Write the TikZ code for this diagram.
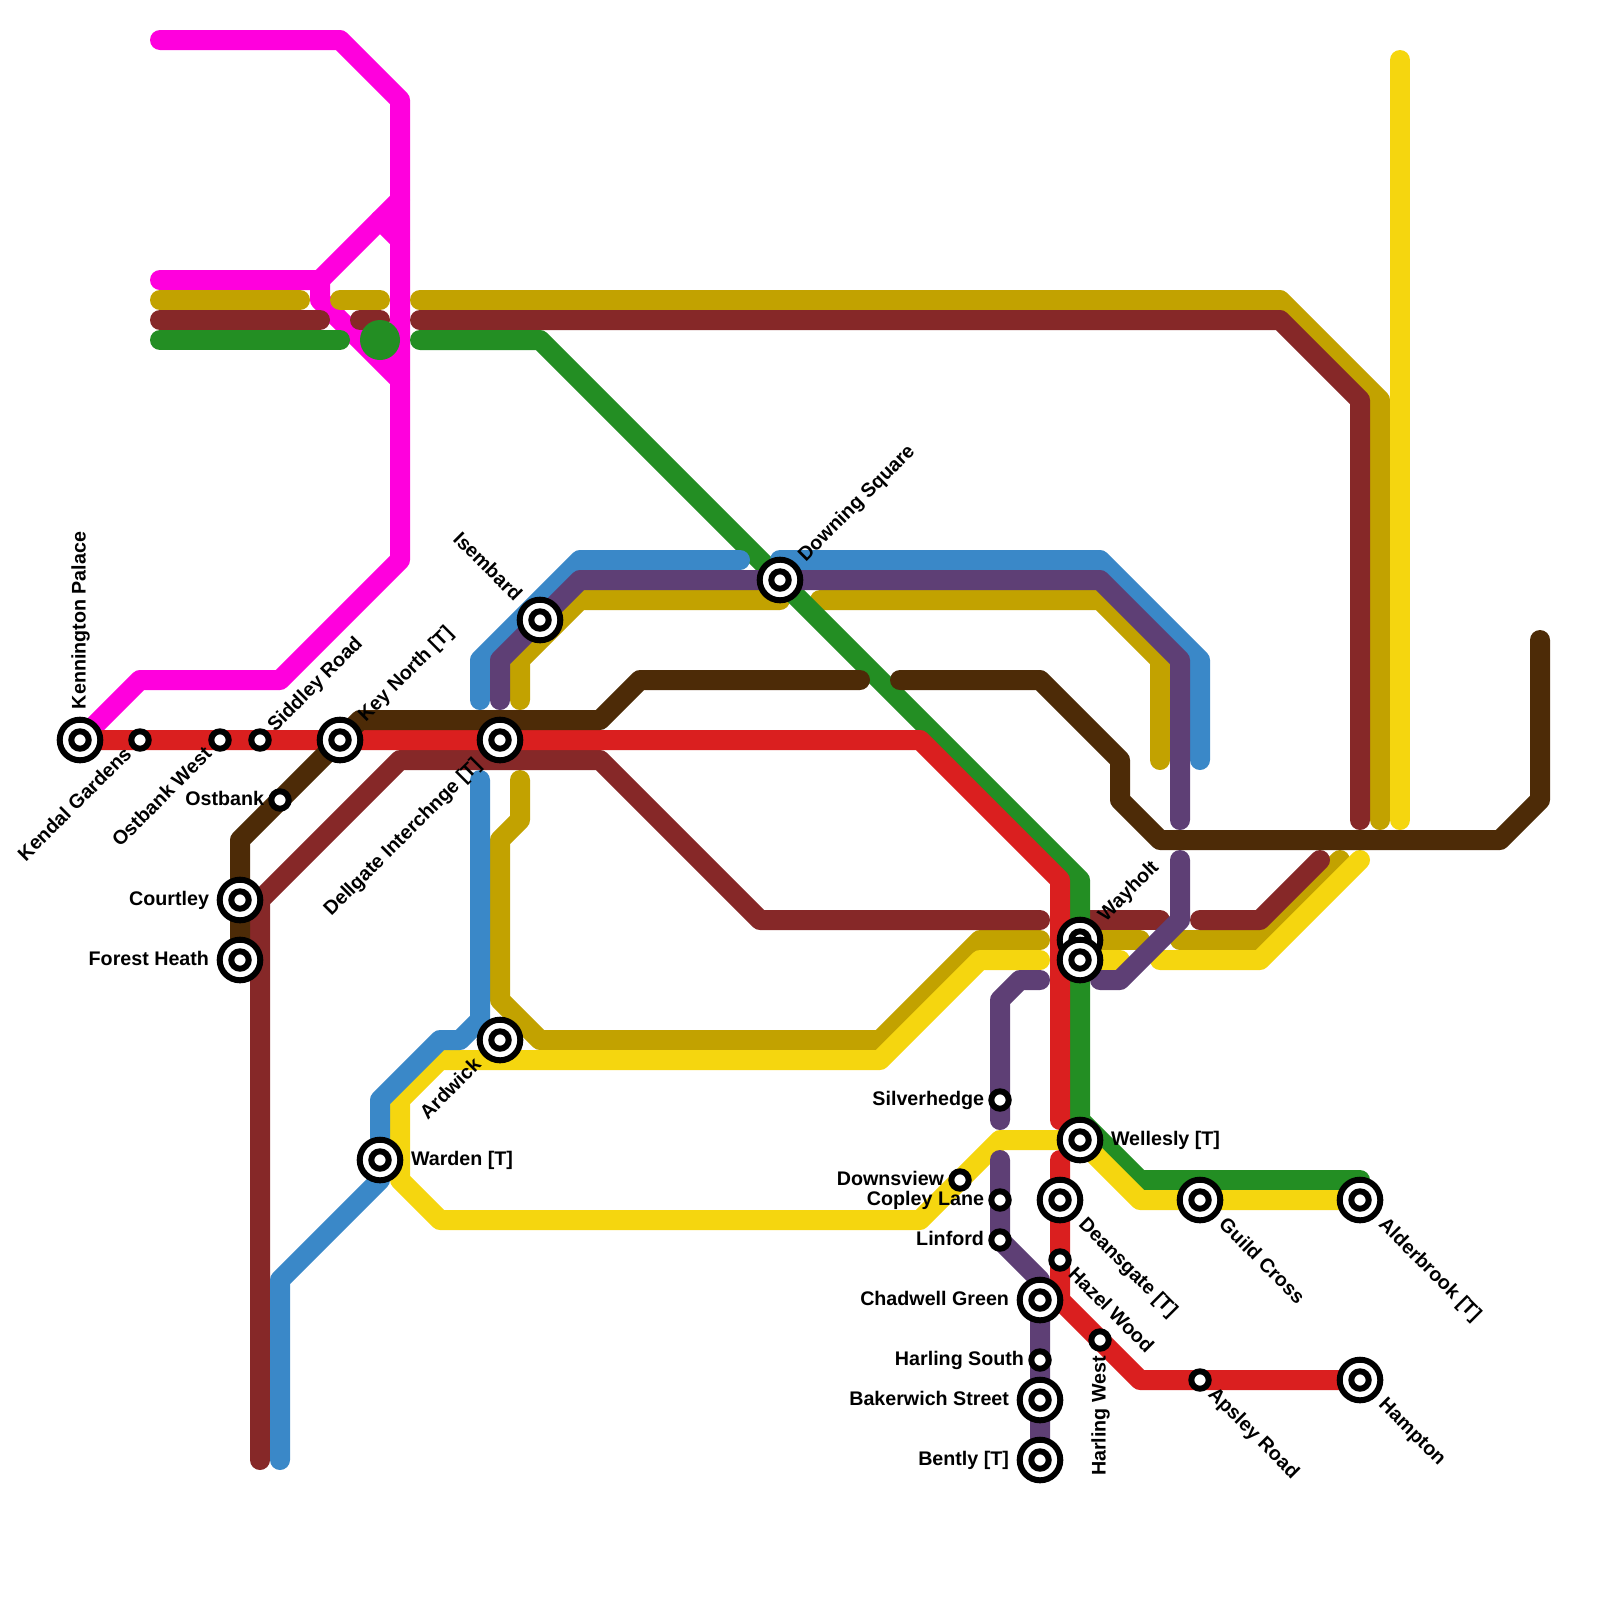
\documentclass[tikz,border=0pt]{standalone}
\usepackage{fontspec}
\setmainfont{Liberation Sans}[BoldFont={Liberation Sans Bold}]
\definecolor{cMag}{HTML}{FF00DD}
\definecolor{cGold}{HTML}{C2A200}
\definecolor{cMar}{HTML}{862828}
\definecolor{cGrn}{HTML}{238E23}
\definecolor{cRed}{HTML}{DA1F1F}
\definecolor{cBrn}{HTML}{4D2B07}
\definecolor{cBlu}{HTML}{3A88C8}
\definecolor{cYel}{HTML}{F5D60F}
\definecolor{cPur}{HTML}{5E3F75}
\pgfdeclarelayer{lines}
\pgfsetlayers{lines,main}
\tikzset{
  railline/.style={line width=0.5cm,line cap=round,line join=round},
  ringouter/.style={circle,draw=black,fill=white,line width=0.15cm,minimum size=1.015cm,inner sep=0pt,outer sep=0pt},
  ringinner/.style={circle,draw=black,fill=white,line width=0.15cm,minimum size=0.435cm,inner sep=0pt,outer sep=0pt},
  lbl/.style={font=\fontsize{14pt}{16pt}\selectfont\bfseries,inner sep=0pt,outer sep=0pt,text=black,text height=8pt,text depth=0pt},
  lbig/.style={lbl,rotate=#1,anchor=west,xshift=0.775cm},
  lbigr/.style={lbl,rotate=#1,anchor=east,xshift=-0.775cm},
  lsm/.style={lbl,rotate=#1,anchor=west,xshift=0.4cm},
  lsmr/.style={lbl,rotate=#1,anchor=east,xshift=-0.4cm},
}
\newcommand{\bigstn}[3]{\node[ringouter] (#1) at (#2,#3) {}; \node[ringinner] (#1i) at (#1.center) {};}
\newcommand{\smallstn}[3]{\node[ringinner] (#1) at (#2,#3) {};}
\begin{document}
\begin{tikzpicture}[x=0.5cm,y=-0.5cm]
\useasboundingbox (0,0) rectangle (80,80);
% stations
\bigstn{kp}{4}{37}
\smallstn{kg}{7}{37}
\smallstn{ow}{11}{37}
\smallstn{sr}{13}{37}
\bigstn{kn}{17}{37}
\bigstn{dg}{25}{37}
\smallstn{ob}{14}{40}
\bigstn{ct}{12}{45}
\bigstn{fh}{12}{48}
\bigstn{is}{27}{31}
\bigstn{ds}{39}{29}
\bigstn{ar}{25}{52}
\bigstn{wd}{19}{58}
\bigstn{wh}{54}{47}
\bigstn{wx}{54}{48}
\bigstn{wl}{54}{57}
\smallstn{sh}{50}{55}
\smallstn{dv}{48}{59}
\smallstn{cl}{50}{60}
\smallstn{lf}{50}{62}
\bigstn{dn}{53}{60}
\smallstn{hz}{53}{63}
\bigstn{cg}{52}{65}
\smallstn{hw}{55}{67}
\smallstn{hs}{52}{68}
\bigstn{bk}{52}{70}
\bigstn{bt}{52}{73}
\bigstn{gc}{60}{60}
\bigstn{ab}{68}{60}
\smallstn{ap}{60}{69}
\bigstn{hm}{68}{69}
\node[circle,fill=cGrn,minimum size=1cm,inner sep=0pt] (gdot) at (19,17) {};
% labels
\node[lbig=90] at (kp.center) {Kennington Palace};
\node[lsmr=45] at (kg.center) {Kendal Gardens};
\node[lsmr=45] at (ow.center) {Ostbank West};
\node[lsm=45] at (sr.center) {Siddley Road};
\node[lbig=45] at (kn.center) {Key North [T]};
\node[lbigr=45] at (dg.center) {Dellgate Interchnge [T]};
\node[lsmr=0] at (ob.center) {Ostbank};
\node[lbigr=0] at (ct.center) {Courtley};
\node[lbigr=0] at (fh.center) {Forest Heath};
\node[lbigr=-45] at (is.center) {Isembard};
\node[lbig=45] at (ds.center) {Downing Square};
\node[lbigr=45] at (ar.center) {Ardwick};
\node[lbig=0] at (wd.center) {Warden [T]};
\node[lbig=45] at (wh.center) {Wayholt};
\node[lbig=0] at (wl.center) {Wellesly [T]};
\node[lsmr=0] at (sh.center) {Silverhedge};
\node[lsmr=0] at (dv.center) {Downsview};
\node[lsmr=0] at (cl.center) {Copley Lane};
\node[lsmr=0] at (lf.center) {Linford};
\node[lbig=-45] at (dn.center) {Deansgate [T]};
\node[lsm=-45] at (hz.center) {Hazel Wood};
\node[lbigr=0] at (cg.center) {Chadwell Green};
\node[lsmr=90] at (hw.center) {Harling West};
\node[lsmr=0] at (hs.center) {Harling South};
\node[lbigr=0] at (bk.center) {Bakerwich Street};
\node[lbigr=0] at (bt.center) {Bently [T]};
\node[lbig=-45] at (gc.center) {Guild Cross};
\node[lbig=-45] at (ab.center) {Alderbrook [T]};
\node[lsm=-45] at (ap.center) {Apsley Road};
\node[lbig=-45] at (hm.center) {Hampton};
% lines
\begin{pgfonlayer}{lines}
\begin{scope}[railline]
\draw[cMag] (8,2) -- (17,2) -- (20,5) -- (20,28) -- (14,34) -- (7,34) -- (kp.center);
\draw[cMag] (8,14) -- (16,14) -- (20,10);
\draw[cMag] (19,11) -- (20,12);
\draw[cMag] (16,14) -- (16,15) -- (20,19);
% gold
\draw[cGold] (8,15) -- (15,15);
\draw[cGold] (17,15) -- (19,15);
\draw[cGold] (21,15) -- (64,15) -- (69,20) -- (69,41);
\draw[cGold] (26,35) -- (26,33) -- (29,30) -- (39,30);
\draw[cGold] (41,30) -- (55,30) -- (58,33) -- (58,38);
\draw[cGold] (26,39) -- (26,41) -- (25,42) -- (25,50) -- (27,52) -- (44,52) -- (49,47) -- (52,47);
\draw[cGold] (wh.center) -- (57,47);
\draw[cGold] (59,47) -- (63,47) -- (67,43);
% maroon
\draw[cMar] (8,16) -- (16,16);
\draw[cMar] (18,16) -- (19,16);
\draw[cMar] (21,16) -- (64,16) -- (68,20) -- (68,41);
\draw[cMar] (13,73) -- (13,45) -- (20,38) -- (30,38) -- (38,46) -- (52,46);
\draw[cMar] (54,46) -- (58,46);
\draw[cMar] (60,46) -- (63,46) -- (66,43);
% green
\draw[cGrn] (8,17) -- (17,17);
\draw[cGrn] (21,17) -- (27,17) -- (54,44) -- (54,56) -- (57,59) -- (68,59);
% yellow
\draw[cYel] (70,3) -- (70,41);
\draw[cYel] (52,48) -- (49,48) -- (44,53) -- (22,53) -- (20,55) -- (20,59) -- (22,61) -- (46,61) -- (50,57) -- (wl.center) -- (57,60) -- (gc.center) -- (ab.center);
\draw[cYel] (wx.center) -- (56,48);
\draw[cYel] (58,48) -- (63,48) -- (68,43);
% red
\draw[cRed] (kp.center) -- (kg.center) -- (ow.center) -- (sr.center) -- (kn.center) -- (dg.center) -- (46,37) -- (53,44) -- (53,56);
\draw[cRed] (53,58) -- (dn.center) -- (hz.center) -- (53,65) -- (hw.center) -- (57,69) -- (ap.center) -- (hm.center);
% brown
\draw[cBrn] (fh.center) -- (ct.center) -- (12,42) -- (ob.center) -- (kn.center) -- (18,36) -- (30,36) -- (32,34) -- (43,34);
\draw[cBrn] (45,34) -- (52,34) -- (56,38) -- (56,40) -- (58,42) -- (75,42) -- (77,40) -- (77,32);
% blue
\draw[cBlu] (24,35) -- (24,33) -- (29,28) -- (37,28);
\draw[cBlu] (39,28) -- (55,28) -- (60,33) -- (60,38);
\draw[cBlu] (24,39) -- (24,51) -- (23,52) -- (22,52) -- (19,55) -- (wd.center) -- (19,59) -- (14,64) -- (14,73);
% purple
\draw[cPur] (25,35) -- (25,33) -- (29,29) -- (ds.center) -- (55,29) -- (59,33) -- (59,41);
\draw[cPur] (59,43) -- (59,46) -- (56,49) -- (55,49);
\draw[cPur] (52,49) -- (51,49) -- (50,50) -- (sh.center) -- (50,56);
\draw[cPur] (50,58) -- (cl.center) -- (lf.center) -- (52,64) -- (cg.center) -- (hs.center) -- (bk.center) -- (bt.center);
\end{scope}
\end{pgfonlayer}
\end{tikzpicture}
\end{document}
